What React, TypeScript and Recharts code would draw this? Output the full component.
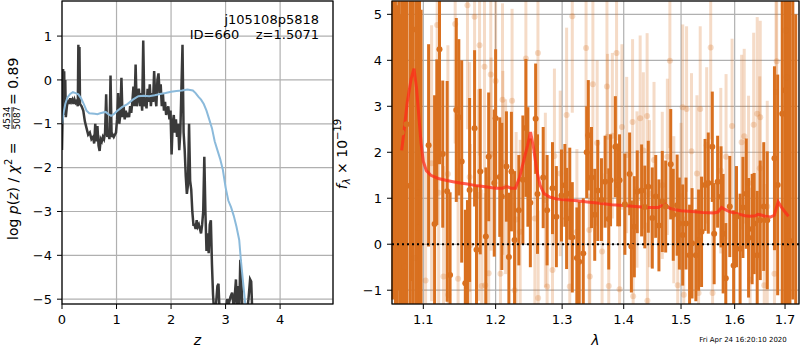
import {
  ComposedChart,
  Line,
  Scatter,
  ErrorBar,
  XAxis,
  YAxis,
  CartesianGrid,
  ReferenceLine,
} from "recharts";

// left panel: log p(z) (black) and scaled chi2 (blue)
const pzZ = [0, 0.01, 0.02, 0.03, 0.04, 0.05, 0.06, 0.07, 0.09, 0.11, 0.13, 0.15, 0.17, 0.19, 0.21, 0.23, 0.25, 0.27, 0.29, 0.3, 0.31, 0.32, 0.33, 0.36, 0.39, 0.42, 0.45, 0.48, 0.51, 0.54, 0.57, 0.59, 0.61, 0.63, 0.65, 0.67, 0.69, 0.71, 0.73, 0.75, 0.77, 0.79, 0.81, 0.83, 0.85, 0.87, 0.89, 0.91, 0.93, 0.95, 0.97, 0.99, 1.01, 1.03, 1.05, 1.07, 1.09, 1.11, 1.13, 1.15, 1.17, 1.19, 1.21, 1.23, 1.25, 1.27, 1.29, 1.31, 1.33, 1.35, 1.37, 1.39, 1.41, 1.43, 1.45, 1.47, 1.49, 1.51, 1.53, 1.55, 1.57, 1.59, 1.61, 1.63, 1.65, 1.67, 1.69, 1.71, 1.73, 1.75, 1.77, 1.79, 1.81, 1.83, 1.85, 1.87, 1.89, 1.91, 1.93, 1.95, 1.97, 1.99, 2.01, 2.03, 2.05, 2.07, 2.09, 2.11, 2.13, 2.15, 2.17, 2.19, 2.21, 2.23, 2.25, 2.27, 2.29, 2.31, 2.33, 2.35, 2.37, 2.39, 2.41, 2.43, 2.45, 2.47, 2.49, 2.51, 2.53, 2.55, 2.57, 2.59, 2.61, 2.63, 2.65, 2.67, 2.69, 2.71, 2.73, 2.75, 2.77, 2.79, 2.82, 2.85, 2.87, 2.89, 2.93, 2.97, 3.0, 3.03, 3.06, 3.09, 3.12, 3.15, 3.17, 3.19, 3.21, 3.23, 3.25, 3.27, 3.29, 3.31, 3.35, 3.39, 3.42, 3.45, 3.47, 3.49, 3.52];
const pzLog = [-1.6, -0.9, 0.25, -0.8, 0.2, -0.7, 0.0, -0.85, -0.6, -0.45, -0.55, -0.42, -0.5, -0.45, -0.55, -0.45, -0.52, -0.48, -0.6, 0.8, -0.55, 0.75, -0.55, -0.6, -0.7, -0.95, -1.1, -1.25, -1.2, -1.35, -1.3, -1.45, -1.0, -1.4, -1.05, -1.5, -1.62, -1.35, -1.4, -1.3, -1.35, -1.2, -0.33, -1.3, -1.2, -1.35, 0.1, -1.3, -1.25, -1.3, -1.25, -1.2, -0.9, -0.3, -1.0, -0.8, 0.05, -0.85, -0.6, -0.9, -0.7, -0.85, -0.75, -0.85, -0.6, -0.75, -0.5, -0.15, -0.6, 0.35, -0.6, -0.4, -0.2, -0.6, -0.3, -0.7, 0.9, -0.6, -0.4, -0.65, -0.2, -0.5, -0.1, -0.6, -0.3, -0.5, 0.2, -0.4, -0.6, 0.0, 0.15, -0.3, -0.1, -0.6, -0.3, -0.7, -0.5, -0.8, -0.7, -0.6, -0.9, -0.7, -1.7, -1.0, -0.8, -1.2, -0.9, -1.3, -1.0, -1.6, -1.2, -0.2, 0.8, -1.2, -1.6, -2.2, -2.6, -2.4, -1.0, -2.3, -2.5, -3.0, -3.3, -3.3, -3.4, -3.2, -3.35, -3.3, -3.4, -3.5, -3.3, -3.0, -1.75, -3.0, -3.9, -3.5, -3.95, -3.3, -3.2, -4.2, -4.9, -5.3, -5.2, -4.7, -4.65, -5.3, -5.3, -5.2, -5.3, -5.0, -5.1, -4.95, -4.85, -5.2, -4.9, -4.55, -5.2, -4.7, -5.3, -4.1, -4.6, -5.3, -5.3, -5.3, -5.0, -4.55, -4.6, -5.3, -5.3];

const chiZ = [0, 0.03, 0.06, 0.1, 0.15, 0.2, 0.25, 0.3, 0.35, 0.4, 0.45, 0.5, 0.6, 0.65, 0.7, 0.8, 0.85, 0.9, 0.95, 1.0, 1.1, 1.2, 1.3, 1.4, 1.5, 1.6, 1.7, 1.8, 1.9, 2.0, 2.1, 2.2, 2.3, 2.4, 2.45, 2.5, 2.55, 2.6, 2.65, 2.7, 2.75, 2.8, 2.85, 2.9, 2.95, 3.0, 3.05, 3.1, 3.15, 3.2, 3.25, 3.28, 3.32, 3.36, 3.4];
const chiVal = [-1.0, -0.75, -0.55, -0.4, -0.32, -0.28, -0.3, -0.33, -0.42, -0.55, -0.7, -0.76, -0.77, -0.78, -0.76, -0.73, -0.78, -0.82, -0.78, -0.72, -0.62, -0.55, -0.45, -0.37, -0.36, -0.37, -0.35, -0.32, -0.3, -0.27, -0.25, -0.24, -0.22, -0.24, -0.3, -0.38, -0.45, -0.55, -0.7, -0.9, -1.1, -1.4, -1.6, -1.8, -2.05, -2.45, -2.75, -2.9, -3.1, -3.35, -3.65, -4.1, -4.6, -5.1, -5.3];

// right panel: spectrum points with errors and model
const darkLam = [1.0605, 1.0637, 1.066, 1.068, 1.0695, 1.0717, 1.074, 1.0756, 1.078, 1.0824, 1.0845, 1.086, 1.09, 1.093, 1.095, 1.097, 1.107, 1.115, 1.118, 1.1216, 1.126, 1.132, 1.136, 1.1445, 1.148, 1.152, 1.157, 1.16, 1.163, 1.17, 1.1727, 1.178, 1.186, 1.19, 1.198, 1.2, 1.206, 1.209, 1.2157, 1.2193, 1.223, 1.2277, 1.234, 1.24, 1.2445, 1.2475, 1.2512, 1.2592, 1.262, 1.2707, 1.2767, 1.285, 1.291, 1.299, 1.3043, 1.307, 1.312, 1.316, 1.3233, 1.327, 1.3335, 1.339, 1.3416, 1.3468, 1.352, 1.357, 1.363, 1.369, 1.375, 1.378, 1.386, 1.39, 1.393, 1.402, 1.41, 1.413, 1.418, 1.423, 1.4305, 1.436, 1.442, 1.449, 1.455, 1.4606, 1.4665, 1.4725, 1.4815, 1.486, 1.493, 1.497, 1.503, 1.509, 1.5155, 1.52, 1.527, 1.532, 1.5375, 1.544, 1.55, 1.5575, 1.561, 1.5675, 1.574, 1.578, 1.583, 1.5906, 1.598, 1.6035, 1.6105, 1.616, 1.6225, 1.627, 1.634, 1.638, 1.644, 1.65, 1.657, 1.664, 1.6785, 1.685, 1.6943, 1.7, 1.705, 1.71, 1.716, 1.722];
const darkFlux = [5.8, 3.77, -1.8, 6.0, -2.0, 2.43, 5.5, -0.49, 2.61, 1.27, 6.2, -1.6, 4.67, 0.36, 5.6, -1.9, 2.15, 0.44, 2.22, 4.24, 1.96, 1.15, -0.67, 2.92, 2.76, 1.8, -0.85, -0.54, 1.18, 2.52, -0.12, 1.58, 0.17, 1.9, 1.33, 2.74, 1.46, 1.04, 1.69, -0.28, 1.58, 0.09, 0.74, 1.4, 2.53, 1.68, 0.9, 2.73, 1.09, 1.45, 0.74, 1.22, 0.6, 1.06, 1.28, 0.56, 1.1, 0.15, -0.3, -0.38, -0.2, 2.0, 2.37, 1.45, 0.64, 1.17, 0.97, 1.36, 0.55, 1.39, 2.12, 1.29, 1.39, 0.87, 1.53, -0.05, 0.38, 1.14, 1.17, 0.81, 1.25, 0.57, 1.04, 0.41, 0.93, 0.82, 1.74, 0.64, 0.85, 0.45, 0.2, 0.45, -0.24, 0.02, -0.24, 0.09, 0.27, 1.29, 1.33, 2.12, 0.23, 1.36, 1.03, 0.23, -0.74, 0.82, -0.46, 0.6, -0.1, 0.8, 1.1, 0.14, 0.33, 0.45, -0.24, 0.52, 0.82, 0.52, 1.87, 1.29, 2.84, 3.35, 0.29, 0.07, 5.8, -2.0];
const darkErr = [7, 7, 7, 7, 7, 7, 7, 7, 7, 7, 7, 7, 7, 7, 7, 7, 2.2, 2.8, 1.8, 2.5, 1.6, 2.4, 1.8, 2.0, 1.7, 2.2, 1.6, 1.5, 2.0, 1.7, 1.4, 1.8, 1.5, 1.4, 1.6, 1.5, 1.3, 1.6, 1.2, 1.4, 1.3, 1.5, 1.2, 1.4, 1.5, 1.3, 1.4, 1.2, 1.3, 1.1, 1.2, 1.0, 1.1, 1.0, 0.9, 1.1, 1.0, 1.2, 1.1, 1.3, 1.2, 1.0, 1.2, 1.1, 1.0, 1.1, 0.9, 1.0, 1.1, 1.0, 1.1, 0.9, 1.0, 1.1, 0.9, 1.0, 1.1, 0.9, 1.0, 0.9, 1.0, 1.1, 0.9, 1.0, 1.1, 1.0, 1.2, 1.0, 1.1, 1.0, 1.1, 1.0, 1.1, 1.2, 1.0, 1.1, 1.2, 1.0, 1.1, 1.2, 1.1, 1.0, 1.1, 1.3, 1.2, 1.1, 1.2, 1.1, 1.2, 1.1, 1.2, 1.3, 1.2, 1.1, 1.4, 1.3, 1.4, 1.5, 2.0, 2.4, 7, 7, 7, 7, 7, 7];

const lightLam = [1.0886, 1.093, 1.103, 1.111, 1.1185, 1.1205, 1.127, 1.133, 1.1335, 1.143, 1.147, 1.16, 1.163, 1.164, 1.17, 1.1755, 1.177, 1.18, 1.184, 1.185, 1.19, 1.193, 1.1935, 1.2, 1.207, 1.21, 1.2105, 1.2145, 1.224, 1.2277, 1.23, 1.236, 1.2445, 1.258, 1.2627, 1.263, 1.274, 1.2767, 1.285, 1.288, 1.297, 1.307, 1.312, 1.316, 1.3233, 1.338, 1.3432, 1.344, 1.349, 1.356, 1.364, 1.372, 1.373, 1.375, 1.381, 1.388, 1.393, 1.397, 1.405, 1.415, 1.416, 1.4225, 1.428, 1.4335, 1.44, 1.4405, 1.444, 1.452, 1.4665, 1.4755, 1.48, 1.487, 1.494, 1.5, 1.503, 1.505, 1.51, 1.519, 1.529, 1.532, 1.535, 1.547, 1.5545, 1.558, 1.5735, 1.5835, 1.595, 1.6135, 1.6185, 1.627, 1.63, 1.637, 1.644, 1.649, 1.65, 1.658, 1.664, 1.6785, 1.6816, 1.683, 1.701, 1.703];
const lightFlux = [-0.3, 1.12, -0.79, 1.76, 4.77, 1.12, -0.7, 1.53, -1.1, 4.79, -0.75, 5.2, 1.46, -0.02, 4.95, 1.07, 4.33, -0.91, 3.86, -0.89, -0.63, 3.69, 1.96, 3.55, -0.64, 3.14, 1.77, 1.25, 3.12, -1.0, 0.54, 0.27, 4.04, 0.56, 4.16, -1.17, 0.96, -0.92, -0.56, 1.92, 1.54, 2.81, -0.92, 4.96, 0.27, 4.27, 0.31, -0.7, 3.48, 2.2, -0.16, 3.43, 2.34, -0.91, 2.36, 4.16, -0.98, 2.55, 1.94, 2.66, -1.13, 1.19, 2.74, 2.04, 2.79, -1.23, 1.1, 1.83, 1.28, 1.9, 3.99, 0.75, -0.89, 1.04, 2.98, -1.1, 2.94, 2.02, 1.54, -1.06, 2.94, 2.15, 4.28, -1.06, 1.6, 1.9, 2.57, 2.22, 2.35, 1.33, -0.77, 2.6, 2.84, 1.65, 2.76, -0.89, 0.82, -0.64, 3.31, 3.98, 4.65, 3.63];
const lightErr = [3.0, 3.2, 2.8, 3.0, 2.8, 2.6, 2.4, 2.8, 2.2, 2.6, 2.4, 2.7, 2.5, 2.2, 2.4, 2.3, 2.4, 2.1, 2.3, 2.0, 2.1, 2.3, 2.1, 2.2, 2.0, 2.1, 2.0, 1.9, 2.0, 1.9, 1.9, 2.0, 2.1, 1.9, 2.0, 1.9, 1.9, 1.8, 1.8, 1.9, 1.8, 1.9, 1.7, 2.1, 1.8, 2.0, 1.7, 1.8, 1.9, 1.8, 1.7, 1.9, 1.8, 1.7, 1.8, 1.9, 1.7, 1.8, 1.7, 1.8, 1.7, 1.7, 1.8, 1.7, 1.8, 1.7, 1.6, 1.7, 1.6, 1.7, 1.9, 1.6, 1.7, 1.6, 1.8, 1.7, 1.8, 1.7, 1.7, 1.8, 1.8, 1.7, 2.0, 1.8, 1.8, 1.8, 1.9, 1.9, 1.9, 1.9, 2.0, 2.0, 2.1, 2.0, 2.1, 2.2, 2.3, 2.5, 2.7, 3.2, 4.0, 4.0];

const modelLam = [1.0717, 1.075, 1.079, 1.084, 1.0877, 1.091, 1.094, 1.097, 1.1, 1.104, 1.11, 1.12, 1.13, 1.14, 1.15, 1.16, 1.17, 1.18, 1.19, 1.2, 1.21, 1.216, 1.222, 1.229, 1.235, 1.241, 1.247, 1.2515, 1.256, 1.261, 1.266, 1.272, 1.28, 1.29, 1.3, 1.32, 1.34, 1.36, 1.38, 1.4, 1.42, 1.44, 1.46, 1.465, 1.469, 1.474, 1.48, 1.49, 1.5, 1.52, 1.54, 1.56, 1.568, 1.575, 1.582, 1.59, 1.6, 1.61, 1.62, 1.63, 1.64, 1.645, 1.65, 1.66, 1.67, 1.678, 1.686, 1.693, 1.7, 1.707];
const modelFlux = [2.04, 2.5, 3.1, 3.6, 3.82, 3.4, 2.8, 2.2, 1.8, 1.6, 1.5, 1.43, 1.39, 1.36, 1.33, 1.31, 1.28, 1.26, 1.24, 1.22, 1.22, 1.26, 1.22, 1.22, 1.45, 1.8, 2.15, 2.44, 2.1, 1.6, 1.28, 1.1, 1.03, 0.99, 0.97, 0.95, 0.92, 0.89, 0.86, 0.84, 0.82, 0.8, 0.8, 0.84, 0.9, 0.84, 0.78, 0.75, 0.73, 0.71, 0.69, 0.68, 0.7, 0.8, 0.75, 0.71, 0.68, 0.65, 0.62, 0.61, 0.62, 0.65, 0.64, 0.61, 0.59, 0.63, 0.92, 0.8, 0.7, 0.61];

const zTicks = [0, 1, 2, 3, 4];
const pzTicks = [-5, -4, -3, -2, -1, 0, 1];
const lamTicks = [1.1, 1.2, 1.3, 1.4, 1.5, 1.6, 1.7];
const fluxTicks = [-1, 0, 1, 2, 3, 4, 5];

const F_MIN = -1.3;
const F_MAX = 5.29;

// error bars stop at the plot edges, like matplotlib clipping
const clipErr = (f: number, e: number) => [Math.min(e, f - F_MIN), Math.min(e, F_MAX - f)];

const pzData = pzZ.map((z, i) => ({ z, v: pzLog[i] }));
const chiData = chiZ.map((z, i) => ({ z, v: chiVal[i] }));
const darkData = darkLam.map((lam, i) => ({ lam, f: darkFlux[i], err: clipErr(darkFlux[i], darkErr[i]) }));
const lightData = lightLam.map((lam, i) => ({ lam, f: lightFlux[i], err: clipErr(lightFlux[i], lightErr[i]) }));
const modelData = modelLam.map((lam, i) => ({ lam, f: modelFlux[i] }));

const FONT = "DejaVu Sans";
const ORANGE = "#d9701f";
const tickStyle = { fill: "#000", fontSize: 13, fontFamily: FONT };
const minus = (v: number) => (v < 0 ? `\u2212${Math.abs(v)}` : `${v}`);

const dot = (color: string, opacity: number) => (p: any) => {
  const f = p.payload?.f;
  if (f > F_MAX || f < F_MIN) return <g />;
  return <circle cx={p.cx} cy={p.cy} r={3} fill={color} fillOpacity={opacity} />;
};

const App = () => {
  return (
    <div style={{ position: "absolute", left: 0, top: 0, width: 800, height: 350, background: "#fff", fontFamily: FONT }}>
      <div style={{ position: "absolute", left: 0, top: 0 }}>
        <ComposedChart width={340} height={350} margin={{ top: 1, right: 7, bottom: 0, left: 0 }}>
          <CartesianGrid stroke="#b0b0b0" strokeWidth={1.2} />
          <XAxis
            dataKey="z"
            type="number"
            domain={[0, 4.97]}
            ticks={zTicks}
            allowDataOverflow
            height={46}
            axisLine={false}
            tickLine={{ stroke: "#000" }}
            tickSize={5}
            tickMargin={6}
            tick={tickStyle}
            label={{ value: "z", position: "insideBottom", offset: 5, fill: "#000", fontSize: 14, fontStyle: "italic", fontFamily: FONT }}
          />
          <YAxis
            dataKey="v"
            type="number"
            domain={[-5.11, 1.8]}
            ticks={pzTicks}
            allowDataOverflow
            width={62}
            axisLine={false}
            tickLine={{ stroke: "#000" }}
            tickSize={5}
            tickMargin={5}
            tick={tickStyle}
            tickFormatter={minus}
          />
          <Line data={pzData} dataKey="v" stroke="#3a3a3a" strokeWidth={2.5} dot={false} isAnimationActive={false} />
          <Line data={chiData} dataKey="v" stroke="#8bbadb" strokeWidth={2} dot={false} isAnimationActive={false} />
        </ComposedChart>
      </div>
      <div style={{ position: "absolute", left: 340, top: 0 }}>
        <ComposedChart width={460} height={350} margin={{ top: 1, right: 1, bottom: 0, left: 0 }}>
          <CartesianGrid stroke="#b0b0b0" strokeWidth={1.2} />
          <XAxis
            dataKey="lam"
            type="number"
            scale="log"
            domain={[1.0593, 1.7288]}
            ticks={lamTicks}
            allowDataOverflow
            height={46}
            axisLine={false}
            tickLine={{ stroke: "#000" }}
            tickSize={5}
            tickMargin={6}
            tick={tickStyle}
            tickFormatter={(v: number) => v.toFixed(1)}
            label={{ value: "λ", position: "insideBottom", offset: 5, fill: "#000", fontSize: 14, fontStyle: "italic", fontFamily: FONT }}
          />
          <YAxis
            dataKey="f"
            type="number"
            domain={[F_MIN, F_MAX]}
            ticks={fluxTicks}
            allowDataOverflow
            width={52}
            axisLine={false}
            tickLine={{ stroke: "#000" }}
            tickSize={5}
            tickMargin={5}
            tick={tickStyle}
            tickFormatter={minus}
          />
          <Scatter data={lightData} shape={dot(ORANGE, 0.25)} isAnimationActive={false}>
            <ErrorBar dataKey="err" direction="y" width={0} stroke={ORANGE} strokeOpacity={0.25} strokeWidth={3} isAnimationActive={false} />
          </Scatter>
          <Scatter data={darkData} shape={dot(ORANGE, 1)} isAnimationActive={false}>
            <ErrorBar dataKey="err" direction="y" width={0} stroke={ORANGE} strokeWidth={3} isAnimationActive={false} />
          </Scatter>
          <Line data={modelData} dataKey="f" stroke="#ff2a1a" strokeOpacity={0.75} strokeWidth={3} dot={false} isAnimationActive={false} />
          <ReferenceLine y={0} stroke="#000" strokeWidth={2} strokeDasharray="2 3" />
        </ComposedChart>
      </div>
      <svg width={800} height={350} style={{ position: "absolute", left: 0, top: 0, pointerEvents: "none" }} fontFamily={FONT}>
        <rect x={62} y={1} width={271} height={303} fill="none" stroke="#000" strokeWidth={1.2} />
        <rect x={392} y={1} width={407} height={303} fill="none" stroke="#000" strokeWidth={1.2} />
        <text x={319} y={24} textAnchor="end" fontSize={13} fill="#000">j105108p5818</text>
        <text x={319} y={39} textAnchor="end" fontSize={13} fill="#000" style={{ whiteSpace: "pre" }}>{"ID=660    z=1.5071"}</text>
        <g transform="translate(18,154) rotate(-90)" fontSize={14} fill="#000">
          <text x={-86} y={0}>
            log <tspan fontStyle="italic">p</tspan>(<tspan fontStyle="italic">z</tspan>) / <tspan fontStyle="italic">χ</tspan>
            <tspan dy={-6} fontSize={10}>2</tspan>
            <tspan dy={6}> =</tspan>
          </text>
          <text x={36} y={-8} fontSize={9} textAnchor="middle">4534</text>
          <line x1={25} x2={47} y1={-6} y2={-6} stroke="#000" strokeWidth={0.8} />
          <text x={36} y={2} fontSize={9} textAnchor="middle">5087</text>
          <text x={49} y={0}>= 0.89</text>
        </g>
        <g transform="translate(347,154) rotate(-90)" fontSize={14} fill="#000">
          <text x={0} y={0} textAnchor="middle">
            <tspan fontStyle="italic">f</tspan>
            <tspan dy={3} fontSize={10} fontStyle="italic">λ</tspan>
            <tspan dy={-3}> × 10</tspan>
            <tspan dy={-6} fontSize={10}>−19</tspan>
          </text>
        </g>
        <text x={743} y={342} textAnchor="middle" fontSize={7} fill="#000">Fri Apr 24 16:20:10 2020</text>
      </svg>
    </div>
  );
};

export default App;
